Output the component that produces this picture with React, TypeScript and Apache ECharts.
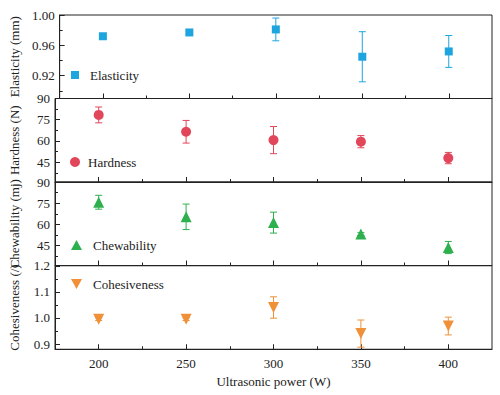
import React, { useEffect, useRef } from "react";
import * as echarts from "echarts";

const powers = [200, 250, 300, 350, 400];
const xLabelValues = [200, 250, 300, 350, 400];
const xMinorTicks = [225, 275, 325, 375];

const elasticity = [0.972, 0.977, 0.981, 0.945, 0.952];
const elasticityErr = [0.003, 0.002, 0.015, 0.033, 0.021];
const hardness = [78.4, 66.5, 60.6, 59.5, 47.9];
const hardnessErr = [5.6, 8.0, 9.6, 4.3, 4.0];
const chewability = [75.7, 65.4, 61.3, 53.2, 43.7];
const chewabilityErr = [4.9, 9.0, 7.4, 1.0, 4.3];
const cohesiveness = [0.995, 0.995, 1.04, 0.94, 0.969];
const cohesivenessErr = [0.005, 0.005, 0.041, 0.052, 0.034];

const elasticityTicks = [0.92, 0.96, 1.0];
const elasticityMinor = [0.9, 0.94, 0.98];
const hardnessTicks = [45, 60, 75, 90];
const hardnessMinor = [37.5, 52.5, 67.5, 82.5];
const chewabilityTicks = [45, 60, 75, 90];
const chewabilityMinor = [37.5, 52.5, 67.5, 82.5];
const cohesivenessTicks = [0.9, 1.0, 1.1, 1.2];
const cohesivenessMinor = [0.95, 1.05, 1.15];

const names = ["Elasticity", "Hardness", "Chewability", "Cohesiveness"];
const yNames = ["Elasticity (mm)", "Hardness (N)", "Chewability (mj)", "Cohesiveness (/)"];

const FONT = "'Liberation Serif', 'Times New Roman', serif";
const TXT = "#222";

export default function App() {
  const ref = useRef<HTMLDivElement>(null);
  useEffect(() => {
    document.body.style.margin = "0";
    if (!ref.current) return;
    const chart = echarts.init(ref.current, undefined, { renderer: "svg" });

    const panels = [
      { vals: elasticity, errs: elasticityErr, min: 0.89, max: 1.0, ticks: elasticityTicks, minor: elasticityMinor, color: "#1ea5df", symbol: "rect", size: 8, fmt: (v: number) => v.toFixed(2) },
      { vals: hardness, errs: hardnessErr, min: 31, max: 90, ticks: hardnessTicks, minor: hardnessMinor, color: "#e2465b", symbol: "circle", size: 10, fmt: (v: number) => String(v) },
      { vals: chewability, errs: chewabilityErr, min: 31, max: 90, ticks: chewabilityTicks, minor: chewabilityMinor, color: "#2eb04f", symbol: "triangle", size: 11, fmt: (v: number) => String(v) },
      { vals: cohesiveness, errs: cohesivenessErr, min: 0.88, max: 1.2, ticks: cohesivenessTicks, minor: cohesivenessMinor, color: "#f0913a", symbol: "path://M0,0 L10,0 L5,9 Z", size: 11, fmt: (v: number) => v.toFixed(1) },
    ];

    const tops = [15, 98.5, 182, 265.75];
    const h = 83.5;
    const legendTops = [68, 155, 238, 277];
    const legendLefts = [71, 70, 71, 71];
    const legendPads = [6, 3, 6, 6];
    const legendW = [8, 10, 11, 11];

    const grid: any[] = [];
    const xAxis: any[] = [];
    const yAxis: any[] = [];
    const series: any[] = [];
    const legend: any[] = [];

    panels.forEach((p, i) => {
      grid.push({ left: 55, right: 8, top: tops[i], height: h, show: true, borderColor: "#222", borderWidth: 1, backgroundColor: "transparent" });
      const last = i === 3;
      xAxis.push({
        type: "value", gridIndex: i, min: 175, max: 425,
        axisLine: { show: true, lineStyle: { color: "#222", width: 1 } },
        axisTick: { show: true, inside: true, length: 5, customValues: xLabelValues, lineStyle: { color: "#222" } },
        axisLabel: { show: last, customValues: xLabelValues, color: TXT, fontFamily: FONT, fontSize: 13, margin: 8 },
        splitLine: { show: false },
        name: last ? "Ultrasonic power (W)" : "",
        nameLocation: "middle", nameGap: 26,
        nameTextStyle: { color: TXT, fontFamily: FONT, fontSize: 13 },
      });
      yAxis.push({
        type: "value", gridIndex: i, min: p.min, max: p.max,
        axisLine: { show: true, lineStyle: { color: "#222", width: 1 } },
        axisTick: { show: true, inside: true, length: 5, customValues: p.ticks, lineStyle: { color: "#222" } },
        axisLabel: { show: true, customValues: p.ticks, formatter: p.fmt, color: TXT, fontFamily: FONT, fontSize: 13, margin: 5 },
        splitLine: { show: false },
        name: yNames[i], nameLocation: "middle", nameGap: 34,
        nameTextStyle: { color: TXT, fontFamily: FONT, fontSize: 13 },
      });
    });
    panels.forEach((p, i) => {
      xAxis.push({
        type: "value", gridIndex: i, min: 175, max: 425, position: "bottom",
        axisLine: { show: false },
        axisTick: { show: true, inside: true, length: 3, customValues: xMinorTicks, lineStyle: { color: "#222" } },
        axisLabel: { show: false },
        splitLine: { show: false },
      });
      yAxis.push({
        type: "value", gridIndex: i, min: p.min, max: p.max, position: "left",
        axisLine: { show: false },
        axisTick: { show: true, inside: true, length: 3, customValues: p.minor, lineStyle: { color: "#222" } },
        axisLabel: { show: false },
        splitLine: { show: false },
      });
    });

    panels.forEach((p, i) => {
      const errData = powers.map((x, k) => [x, p.vals[k], p.errs[k]]);
      series.push({
        type: "custom", name: names[i] + " err", xAxisIndex: i, yAxisIndex: i,
        data: errData, encode: { x: 0, y: 1 }, z: 1,
        renderItem: (params: any, api: any) => {
          const x = api.value(0), y = api.value(1), e = api.value(2);
          const t = api.coord([x, y + e]);
          const b = api.coord([x, y - e]);
          const w = 3.5;
          const st = { stroke: p.color, lineWidth: 1, fill: "none" };
          return {
            type: "group",
            children: [
              { type: "line", shape: { x1: t[0], y1: t[1], x2: b[0], y2: b[1] }, style: st },
              { type: "line", shape: { x1: t[0] - w, y1: t[1], x2: t[0] + w, y2: t[1] }, style: st },
              { type: "line", shape: { x1: b[0] - w, y1: b[1], x2: b[0] + w, y2: b[1] }, style: st },
            ],
          };
        },
      });
      series.push({
        type: "scatter", name: names[i], xAxisIndex: i, yAxisIndex: i,
        data: powers.map((x, k) => [x, p.vals[k]]),
        symbol: p.symbol, symbolSize: p.size, z: 2,
        itemStyle: { color: p.color, opacity: 1 },
      });
      legend.push({
        data: [names[i]], left: legendLefts[i], top: legendTops[i], padding: 0,
        itemWidth: legendW[i], itemHeight: legendW[i] === 8 ? 8 : 10,
        selectedMode: false,
        textStyle: { color: TXT, fontFamily: FONT, fontSize: 13, lineHeight: 14, padding: [0, 0, 0, legendPads[i]] },
      });
    });

    chart.setOption({
      animation: false,
      backgroundColor: "#fff",
      textStyle: { fontFamily: FONT },
      grid, xAxis, yAxis, series, legend,
    });
    return () => chart.dispose();
  }, []);
  return <div ref={ref} style={{ width: 500, height: 395 }} />;
}
